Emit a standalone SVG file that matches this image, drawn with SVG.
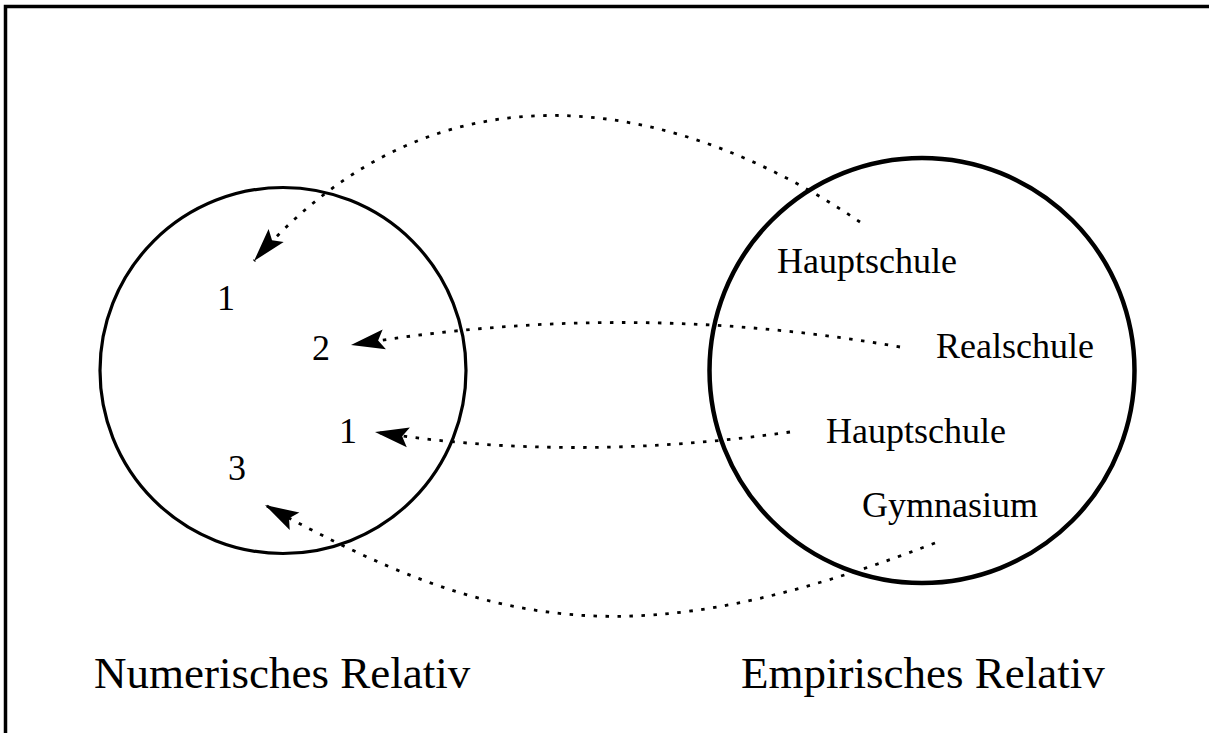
<svg xmlns="http://www.w3.org/2000/svg" width="1209" height="733" viewBox="0 0 1209 733">
<style>
.lbl{font-family:"Liberation Serif","Times New Roman",serif;fill:#000}
.small{font-size:36px}
.big{font-size:45px}
.conn{fill:none;stroke:#000;stroke-width:2.8;stroke-dasharray:3.5 8.5}
.ring{fill:none;stroke:#000}
</style>
<defs>
<marker id="head" markerUnits="userSpaceOnUse" orient="auto" markerWidth="40" markerHeight="30" viewBox="-30 -10 32 20" refX="0" refY="0">
<path d="M0,0 L-27,-8 L-22,0 L-27,8 Z" fill="#000"/>
</marker>
</defs>
<rect width="1209" height="733" fill="#fff"/>
<path d="M5.5,733 V6.5 H1209" fill="none" stroke="#000" stroke-width="3.5"/>
<g id="numerisch">
<circle class="ring" cx="283" cy="370.5" r="183" stroke-width="3.2"/>
<text class="lbl small" x="226" y="310" text-anchor="middle">1</text>
<text class="lbl small" x="321" y="360" text-anchor="middle">2</text>
<text class="lbl small" x="348" y="443" text-anchor="middle">1</text>
<text class="lbl small" x="237" y="480" text-anchor="middle">3</text>
</g>
<g id="empirisch">
<circle class="ring" cx="922" cy="370.5" r="212.5" stroke-width="4.5"/>
<text class="lbl small" x="777" y="273">Hauptschule</text>
<text class="lbl small" x="936" y="358">Realschule</text>
<text class="lbl small" x="826" y="443">Hauptschule</text>
<text class="lbl small" x="862" y="517">Gymnasium</text>
</g>
<g id="titles">
<text class="lbl big" x="94" y="688">Numerisches Relativ</text>
<text class="lbl big" x="741" y="688">Empirisches Relativ</text>
</g>
<g id="connectors">
<path class="conn" d="M860,222 C680,100 440,47 254,261" marker-end="url(#head)"/>
<path class="conn" d="M900,347 Q628,299 351,345" marker-end="url(#head)"/>
<path class="conn" d="M790,432 Q571,463 375,432" marker-end="url(#head)"/>
<path class="conn" d="M935,543 C635,658 495,632 265,505" marker-end="url(#head)"/>
</g>
</svg>
